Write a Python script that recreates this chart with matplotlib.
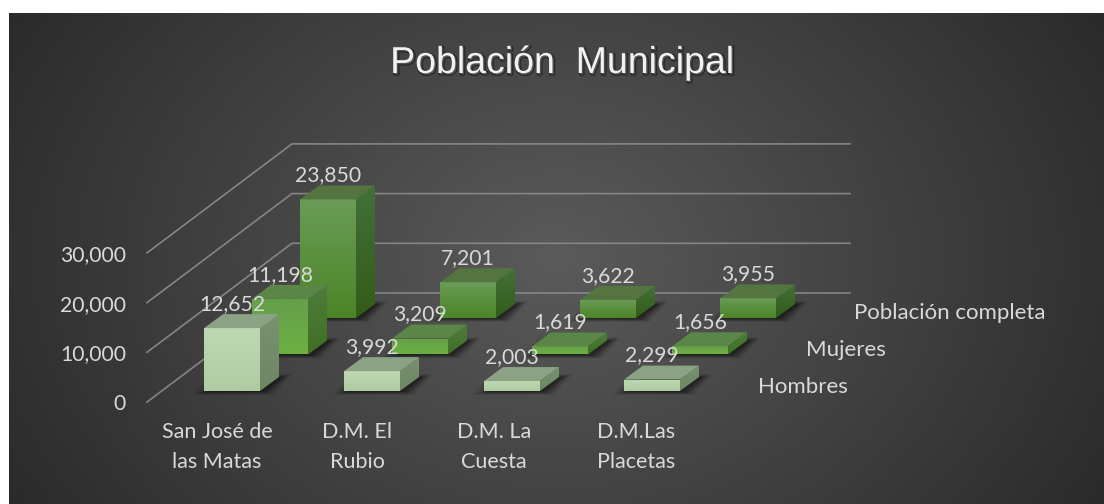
import numpy as np
import matplotlib
matplotlib.use("Agg")
import matplotlib.pyplot as plt
import matplotlib.patheffects as pe
from matplotlib.patches import Polygon

categories = ["San José de\nlas Matas", "D.M. El\nRubio", "D.M. La\nCuesta", "D.M.Las\nPlacetas"]
series = ["Hombres", "Mujeres", "Población completa"]
hombres = [12652, 3992, 2003, 2299]
mujeres = [11198, 3209, 1619, 1656]
poblacion = [23850, 7201, 3622, 3955]
y_ticks = [0, 10000, 20000, 30000]

plt.rcParams["font.family"] = ["Lato", "DejaVu Sans"]

# pixels, the whole figure is one axes
fig = plt.figure(figsize=(11.04, 5.04), dpi=100)
ax = fig.add_axes([0, 0, 1, 1])
ax.set_xlim(0, 1104)
ax.set_ylim(504, 0)
ax.axis("off")

PX_PER_UNIT = 49.7 / 10000
BAR_W = 56
DEPTH = (19, -14)
X0, Y0 = 204, 391
CAT_STEP = 140
SER_STEP = (48, -36.5)

# radial background, runs off the right and bottom edges
L, R, T, B = 9, 1104, 13, 504
xx, yy = np.meshgrid(np.linspace(L, R, 300), np.linspace(T, B, 150))
rr = np.sqrt(((xx - 556) / 640) ** 2 + ((yy - 258) / 500) ** 2)
shade = np.clip(0.355 - 0.19 * rr, 0, 1)
ax.imshow(np.dstack([shade] * 3), extent=(L, R, B, T), aspect="auto", zorder=0)
ax.set_xlim(0, 1104)
ax.set_ylim(504, 0)

# gridlines go from the front left corner to the back wall
for v in y_ticks:
    h = v * PX_PER_UNIT
    ax.plot([147, 292, 850], [402 - h, 293 - h, 293 - h], color="#858585", lw=1.2, zorder=1,
            solid_joinstyle="miter")
    ax.text(126, 404 - h, f"{v:,}", color="#d9d9d9", fontsize=15.2, ha="right", va="center", zorder=30)


def grad_poly(pts, top, bottom, zorder):
    pts = np.array(pts, dtype=float)
    x0, x1 = pts[:, 0].min(), pts[:, 0].max()
    y0, y1 = pts[:, 1].min(), pts[:, 1].max()
    top = np.array(matplotlib.colors.to_rgb(top))
    bottom = np.array(matplotlib.colors.to_rgb(bottom))
    t = np.linspace(0, 1, 64)[:, None, None]
    img = top[None, None, :] * (1 - t) + bottom[None, None, :] * t
    im = ax.imshow(img, extent=(x0, x1, y1, y0), aspect="auto", zorder=zorder)
    clip = Polygon(pts, closed=True, transform=ax.transData)
    im.set_clip_path(clip)


def draw_bar(x, y, value, colors, zorder):
    h = value * PX_PER_UNIT
    dx, dy = DEPTH
    front = [(x, y), (x + BAR_W, y), (x + BAR_W, y - h), (x, y - h)]
    side = [(x + BAR_W, y), (x + BAR_W + dx, y + dy), (x + BAR_W + dx, y + dy - h), (x + BAR_W, y - h)]
    top = [(x, y - h), (x + BAR_W, y - h), (x + BAR_W + dx, y + dy - h), (x + dx, y + dy - h)]

    # soft shadow on the floor, offset to the right
    for grow, alpha in zip([10, 8, 6, 4, 2, 0], [0.05, 0.08, 0.1, 0.12, 0.15, 0.18]):
        sx = x + 4
        floor = [(sx - grow * 1.6, y + 1 + grow * 0.3), (sx + BAR_W + grow, y + 1 + grow * 0.3),
                 (sx + BAR_W + dx + grow, y + dy - grow * 0.3), (sx + dx - grow * 1.6, y + dy - grow * 0.3)]
        ax.add_patch(Polygon(floor, closed=True, fc="black", ec="none", alpha=alpha, zorder=zorder - 0.5))

    grad_poly(front, colors[0], colors[1], zorder)
    grad_poly(side, colors[2], colors[3], zorder)
    ax.add_patch(Polygon(top, closed=True, fc=colors[4], ec="none", zorder=zorder))
    return x + BAR_W / 2, y + dy - h


series_vals = [hombres, mujeres, poblacion]
# front top, front bottom, side top, side bottom, top face
series_cols = [
    ("#bcd9b2", "#aecba1", "#78926f", "#6d8764", "#8ba285"),
    ("#659f4b", "#6cb042", "#4f7c3c", "#3f7024", "#5c8648"),
    ("#6a9c57", "#4c8426", "#43703a", "#335c17", "#54753f"),
]
labels = []
for s in range(2, -1, -1):
    for c in range(3, -1, -1):
        x = X0 + c * CAT_STEP + s * SER_STEP[0]
        y = Y0 + s * SER_STEP[1]
        v = series_vals[s][c]
        cx, ty = draw_bar(x, y, v, series_cols[s], 10 + (2 - s) * 5 + (3 - c) * 0.5)
        labels.append((cx, ty - 10, f"{v:,}"))

for cx, ty, txt in labels:
    ax.text(cx, ty, txt, color="#d9d9d9", fontsize=15.2, ha="center", va="center", zorder=30)

# wrapped labels do not sit exactly on the category step
for name, cx in zip(categories, [217, 357, 494, 636]):
    ax.text(cx, 447, name, color="#d9d9d9", fontsize=15.5,
            ha="center", va="center", linespacing=1.62, zorder=30)

for s, name in enumerate(series):
    ax.text(758 + s * 48, 387 - s * 37, name, color="#d9d9d9", fontsize=16, ha="left", va="center", zorder=30)

ax.text(562, 63, "Población  Municipal", color="#f2f2f2", fontsize=27, family="Liberation Sans",
        ha="center", va="center", zorder=30,
        path_effects=[pe.Stroke(linewidth=2, foreground="black", alpha=0.4, offset=(1, -1)), pe.Normal()])

fig.savefig("out.png", dpi=100, facecolor="white")
